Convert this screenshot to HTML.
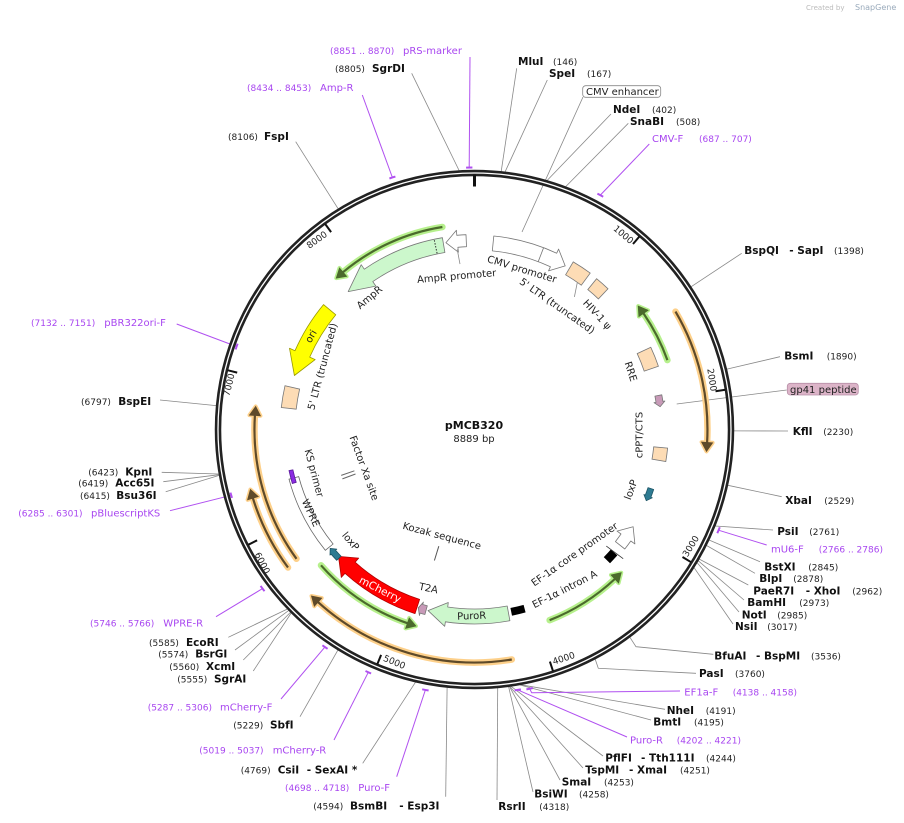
<!DOCTYPE html>
<html><head><meta charset="utf-8"><style>
html,body{margin:0;padding:0;background:#fff;}
svg{display:block;}
text{font-family:"DejaVu Sans","Liberation Sans",sans-serif;}
.n{font-weight:bold;font-size:10.5px;fill:#111;}
.c{font-size:9px;fill:#222;}
.p{font-size:10px;fill:#a846f0;}
.pc{font-size:9px;fill:#a846f0;}
.i{font-size:10px;fill:#222;}
.t{font-size:9px;fill:#222;}
</style></head><body>
<svg id="s" width="904" height="823" viewBox="0 0 904 823" xmlns="http://www.w3.org/2000/svg">
<rect width="904" height="823" fill="#fff"/>
<text x="806" y="10" style="font-size:7px;fill:#bbb">Created by</text>
<text x="855" y="10" style="font-size:8px;fill:#9ab">SnapGene</text>
<g id="lines"></g>
<g id="ring"></g>
<g id="shapes"></g>

<text x="474" y="429" text-anchor="middle" style="font-weight:bold;font-size:11px;fill:#111">pMCB320</text>
<text x="474" y="442" text-anchor="middle" style="font-size:10px;fill:#222">8889 bp</text>

<text class="t" text-anchor="middle" dominant-baseline="central" transform="translate(622.8,235.4) rotate(40.5)">1000</text>
<text class="t" text-anchor="middle" dominant-baseline="central" transform="translate(711,380) rotate(81)">2000</text>
<text class="t" text-anchor="middle" dominant-baseline="central" transform="translate(691.7,546.7) rotate(-58.5)">3000</text>
<text class="t" text-anchor="middle" dominant-baseline="central" transform="translate(564,659.3) rotate(-18)">4000</text>
<text class="t" text-anchor="middle" dominant-baseline="central" transform="translate(394,663) rotate(22.5)">5000</text>
<text class="t" text-anchor="middle" dominant-baseline="central" transform="translate(261.4,563.5) rotate(63)">6000</text>
<text class="t" text-anchor="middle" dominant-baseline="central" transform="translate(230,385) rotate(-76.5)">7000</text>
<text class="t" text-anchor="middle" dominant-baseline="central" transform="translate(317.5,240.7) rotate(-36)">8000</text>

<g id="labels">
<text class="i" text-anchor="middle" dominant-baseline="central" transform="translate(370,298) rotate(-40)">AmpR</text>
<text class="i" text-anchor="middle" dominant-baseline="central" transform="translate(456.7,277) rotate(-5)">AmpR promoter</text>
<text class="i" text-anchor="middle" dominant-baseline="central" transform="translate(521.7,270) rotate(17)">CMV promoter</text>
<text class="i" text-anchor="middle" dominant-baseline="central" transform="translate(556.7,306.7) rotate(35)">5' LTR (truncated)</text>
<text class="i" text-anchor="middle" dominant-baseline="central" transform="translate(596.7,315) rotate(47)">HIV-1 ψ</text>
<text class="i" text-anchor="middle" dominant-baseline="central" transform="translate(630,371.7) rotate(72)">RRE</text>
<text class="i" text-anchor="middle" dominant-baseline="central" transform="translate(640,435) rotate(-90)">cPPT/CTS</text>
<text class="i" text-anchor="middle" dominant-baseline="central" transform="translate(631.7,490) rotate(-70)">loxP</text>
<text class="i" text-anchor="middle" dominant-baseline="central" transform="translate(575,555) rotate(-35)">EF-1α core promoter</text>
<text class="i" text-anchor="middle" dominant-baseline="central" transform="translate(565,590) rotate(-27)">EF-1α intron A</text>
<text class="i" text-anchor="middle" dominant-baseline="central" transform="translate(471.7,616.7) rotate(-2)">PuroR</text>
<text class="i" text-anchor="middle" dominant-baseline="central" transform="translate(428.3,589) rotate(12)">T2A</text>
<text class="i" text-anchor="middle" dominant-baseline="central" transform="translate(350,541.7) rotate(50)">loxP</text>
<text class="i" text-anchor="middle" dominant-baseline="central" transform="translate(441.7,536.7) rotate(15)">Kozak sequence</text>
<text class="i" text-anchor="middle" dominant-baseline="central" transform="translate(363.3,468.3) rotate(70)">Factor Xa site</text>
<text class="i" text-anchor="middle" dominant-baseline="central" transform="translate(313.3,473.3) rotate(75)">KS primer</text>
<text class="i" text-anchor="middle" dominant-baseline="central" transform="translate(310,513.3) rotate(65)">WPRE</text>
<text class="i" text-anchor="middle" dominant-baseline="central" transform="translate(323.3,366.7) rotate(-75)">5' LTR (truncated)</text>
</g>

<rect x="582.7" y="85.7" width="78" height="11.6" rx="3" fill="#fff" stroke="#888" stroke-width="0.8"/>
<text class="i" x="586" y="95">CMV enhancer</text>
<rect x="787.3" y="383.3" width="71" height="11.7" rx="3" fill="#dcb4c8" stroke="#b890a8" stroke-width="0.8"/>
<text class="i" x="790" y="393">gp41 peptide</text>

<text class="pc" x="330" y="54">(8851 .. 8870)</text><text class="p" x="403" y="54">pRS-marker</text>
<text class="c" x="335" y="72">(8805)</text><text class="n" x="372" y="72">SgrDI</text>
<text class="pc" x="247" y="91">(8434 .. 8453)</text><text class="p" x="320" y="91">Amp-R</text>
<text class="c" x="228" y="140">(8106)</text><text class="n" x="264" y="140">FspI</text>
<text class="n" x="518" y="65">MluI</text><text class="c" x="553" y="65">(146)</text>
<text class="n" x="549" y="77">SpeI</text><text class="c" x="587" y="77">(167)</text>
<text class="n" x="613" y="113">NdeI</text><text class="c" x="652" y="113">(402)</text>
<text class="n" x="630" y="125">SnaBI</text><text class="c" x="676" y="125">(508)</text>
<text class="p" x="652" y="142">CMV-F</text><text class="pc" x="699" y="142">(687 .. 707)</text>

<text class="n" x="744.3" y="254">BspQI</text><text class="n" x="789.3" y="254">- SapI</text><text class="c" x="834" y="254">(1398)</text>
<text class="n" x="784.3" y="359.3">BsmI</text><text class="c" x="826.7" y="359.3">(1890)</text>
<text class="n" x="792.7" y="435">KflI</text><text class="c" x="823.3" y="435">(2230)</text>
<text class="n" x="785.3" y="504">XbaI</text><text class="c" x="824.3" y="504">(2529)</text>
<text class="n" x="777.3" y="535">PsiI</text><text class="c" x="809.3" y="535">(2761)</text>
<text class="p" x="771" y="552.7">mU6-F</text><text class="pc" x="818.7" y="552.7">(2766 .. 2786)</text>
<text class="n" x="764.3" y="570.7">BstXI</text><text class="c" x="808.3" y="570.7">(2845)</text>
<text class="n" x="759.3" y="582">BlpI</text><text class="c" x="793.3" y="582">(2878)</text>
<text class="n" x="753.3" y="594.3">PaeR7I</text><text class="n" x="805.7" y="594.3">- XhoI</text><text class="c" x="852.3" y="594.3">(2962)</text>
<text class="n" x="747.3" y="606">BamHI</text><text class="c" x="799.3" y="606">(2973)</text>
<text class="n" x="741.7" y="618.3">NotI</text><text class="c" x="777.3" y="618.3">(2985)</text>
<text class="n" x="735" y="630">NsiI</text><text class="c" x="767.3" y="630">(3017)</text>
<text class="n" x="714.3" y="659.3">BfuAI</text><text class="n" x="756" y="659.3">- BspMI</text><text class="c" x="811" y="659.3">(3536)</text>
<text class="n" x="699" y="677">PasI</text><text class="c" x="735" y="677">(3760)</text>
<text class="p" x="684.3" y="695.7">EF1a-F</text><text class="pc" x="732.7" y="695.7">(4138 .. 4158)</text>
<text class="n" x="666.7" y="714">NheI</text><text class="c" x="705.7" y="714">(4191)</text>
<text class="n" x="653.3" y="725.3">BmtI</text><text class="c" x="694" y="725.3">(4195)</text>
<text class="p" x="630" y="743.3">Puro-R</text><text class="pc" x="676.7" y="743.3">(4202 .. 4221)</text>
<text class="n" x="605.3" y="761.3">PflFI</text><text class="n" x="641" y="761.3">- Tth111I</text><text class="c" x="706" y="761.3">(4244)</text>
<text class="n" x="585.3" y="773.3">TspMI</text><text class="n" x="629" y="773.3">- XmaI</text><text class="c" x="680" y="773.3">(4251)</text>
<text class="n" x="561.7" y="785.7">SmaI</text><text class="c" x="604" y="785.7">(4253)</text>
<text class="n" x="534.3" y="797.3">BsiWI</text><text class="c" x="579" y="797.3">(4258)</text>
<text class="n" x="498.3" y="810">RsrII</text><text class="c" x="539.3" y="810">(4318)</text>

<text class="c" x="313.3" y="809.3">(4594)</text><text class="n" x="350" y="809.3">BsmBI</text><text class="n" x="399.3" y="809.3">- Esp3I</text>
<text class="pc" x="285" y="791">(4698 .. 4718)</text><text class="p" x="358.3" y="791">Puro-F</text>
<text class="c" x="240.7" y="773.3">(4769)</text><text class="n" x="277.7" y="773.3">CsiI</text><text class="n" x="306.7" y="773.3">- SexAI *</text>
<text class="pc" x="199.3" y="753.3">(5019 .. 5037)</text><text class="p" x="272.7" y="753.3">mCherry-R</text>
<text class="c" x="233.3" y="728.3">(5229)</text><text class="n" x="270" y="728.3">SbfI</text>
<text class="pc" x="147.7" y="710.7">(5287 .. 5306)</text><text class="p" x="220" y="710.7">mCherry-F</text>
<text class="c" x="177.3" y="682.3">(5555)</text><text class="n" x="214" y="682.3">SgrAI</text>
<text class="c" x="169.3" y="670">(5560)</text><text class="n" x="206" y="670">XcmI</text>
<text class="c" x="158.3" y="657.7">(5574)</text><text class="n" x="195.3" y="657.7">BsrGI</text>
<text class="c" x="149" y="646">(5585)</text><text class="n" x="186" y="646">EcoRI</text>
<text class="pc" x="90" y="626.7">(5746 .. 5766)</text><text class="p" x="163.3" y="626.7">WPRE-R</text>

<text class="pc" x="18.3" y="516.7">(6285 .. 6301)</text><text class="p" x="91" y="516.7">pBluescriptKS</text>
<text class="c" x="80" y="499">(6415)</text><text class="n" x="116.3" y="499">Bsu36I</text>
<text class="c" x="78.3" y="486.7">(6419)</text><text class="n" x="115.3" y="486.7">Acc65I</text>
<text class="c" x="88.3" y="475.7">(6423)</text><text class="n" x="125.3" y="475.7">KpnI</text>
<text class="c" x="81" y="405">(6797)</text><text class="n" x="118.3" y="405">BspEI</text>
<text class="pc" x="31" y="326">(7132 .. 7151)</text><text class="p" x="104.3" y="326">pBR322ori-F</text>
<g id="top"></g>
<text text-anchor="middle" dominant-baseline="central" transform="translate(380,590) rotate(27)" style="font-size:10.5px;fill:#fff">mCherry</text>
<text class="i" text-anchor="middle" dominant-baseline="central" transform="translate(311.7,336.7) rotate(-60)">ori</text>
</svg>
<script>
(function(){
var NS="http://www.w3.org/2000/svg";
var cx=474.5, cy=429.5;
function P(r,a){a=a*Math.PI/180;return [cx+r*Math.sin(a), cy-r*Math.cos(a)];}
function f(p){return p[0].toFixed(1)+','+p[1].toFixed(1);}
function arc(r,a1,a2){var large=Math.abs(a2-a1)>180?1:0, sw=a2>a1?1:0;return 'A'+r+','+r+' 0 '+large+' '+sw+' '+f(P(r,a2));}
function add(g,tag,attrs){var e=document.createElementNS(NS,tag);for(var k in attrs)e.setAttribute(k,attrs[k]);document.getElementById(g).appendChild(e);return e;}
function fat(r,w,a1,a2,hw,hl,fill,stroke){
  var d=a2>a1?1:-1, ab=a2-d*hl;
  var s='M'+f(P(r+w/2,a1))+arc(r+w/2,a1,ab)+'L'+f(P(r+hw/2,ab))+'L'+f(P(r,a2))+'L'+f(P(r-hw/2,ab))+'L'+f(P(r-w/2,ab))+arc(r-w/2,ab,a1)+'Z';
  return add('shapes','path',{d:s,fill:fill,stroke:stroke||'#777','stroke-width':0.8,'stroke-linejoin':'round'});}
function box(r,w,a1,a2,fill,stroke){
  var s='M'+f(P(r+w/2,a1))+arc(r+w/2,a1,a2)+'L'+f(P(r-w/2,a2))+arc(r-w/2,a2,a1)+'Z';
  return add('shapes','path',{d:s,fill:fill,stroke:stroke||'#777','stroke-width':0.8});}
function thin(r,a1,a2,t){
  var halo=t=='g'?'#b6f08c':'#fdd08a', col=t=='g'?'#4b6a2c':'#5e4a2a';
  var d=a2>a1?1:-1, hl=9/r*180/Math.PI, ab=a2-d*hl;
  var s='M'+f(P(r,a1))+arc(r,a1,ab);
  add('shapes','path',{d:s,fill:'none',stroke:halo,'stroke-width':6.5,'stroke-linecap':'round'});
  var h='M'+f(P(r+5.5,ab))+'L'+f(P(r,a2))+'L'+f(P(r-5.5,ab))+'Z';
  add('shapes','path',{d:h,fill:halo,stroke:halo,'stroke-width':4,'stroke-linejoin':'round'});
  add('shapes','path',{d:s,fill:'none',stroke:col,'stroke-width':2.2});
  add('shapes','path',{d:h,fill:col,stroke:col,'stroke-width':0.8});}
function ln(g,pts,col,w){return add(g,'polyline',{points:pts.map(f).join(' '),fill:'none',stroke:col,'stroke-width':w||0.8});}
function deg(p){return p/8889*360;}
add('ring','circle',{cx:cx,cy:cy,r:256.5,fill:'none',stroke:'#222','stroke-width':6.5});
add('ring','circle',{cx:cx,cy:cy,r:256.5,fill:'none',stroke:'#fff','stroke-width':1.3});
ln('ring',[P(243,0),P(255,0)],'#111',3);
for(var k=1;k<=8;k++){var a=k*1000/8889*360;ln('ring',[P(244,a),P(254,a)],'#111',2);}
var G='#888', U='#b050f0';
var L=[[411.7,73.3,8805],[295.7,141.7,8106],[516.7,68.3,146],[547.3,80,167],[611,114,402],[628.3,123.3,508],
[741.7,253.3,1398],[780,356.7,1890],[788,431,2230],[781.7,496.7,2529],[773,530,2761],[760,561.7,2845],[755,573.3,2878],
[748.3,585,2962],[744,600,2973],[739,612,2985],[733,624,3017],[665,709.3,4191],[651,720,4195],[603,756,4244],[583,768,4251],
[560,780,4253],[533,792,4258],[497,800,4318],[445.7,796.7,4594],[362.7,763.3,4769],[300,716.7,5229],[253.3,671,5555],
[243.3,660,5560],[235,650,5574],[228.3,637.3,5585],[165.7,491.7,6415],[163.3,481.7,6419],[161.7,472.3,6423],[160,400,6797]];
L.forEach(function(l){ln('lines',[[l[0],l[1]],P(259.5,deg(l[2]))],G);});
ln('lines',[[713.3,654.3],[636,646.7],P(259.5,deg(3536))],G);
ln('lines',[[696,673.3],[598.3,668.3],P(259.5,deg(3760))],G);
ln('lines',[[583,97],[522,232]],G);
ln('lines',[[786.7,390],[676.7,404]],G);
var PR=[[470,57,8851,8870,262],[362.3,95,8434,8453,265],[649.3,144,687,707,266],[766.7,545,2766,2786,264],
[680,691,4138,4158,265],[627,737,4202,4221,264],[396.7,776.7,4698,4718,265],[334,740,5019,5037,265],
[281,699,5287,5306,264],[216,616.7,5746,5766,265],[170,510.7,6285,6301,252],[176.7,324,7132,7151,252]];
PR.forEach(function(p){var a1=deg(p[2]),a2=deg(p[3]),m=(a1+a2)/2;
  if(p[2]==4138){ln('lines',[[p[0],p[1]],[531.7,692.7],P(p[4],m)],U,1);} else ln('lines',[[p[0],p[1]],P(p[4],m)],U,1);
  add('lines','path',{d:'M'+f(P(p[4],a1-0.3))+arc(p[4],a1-0.3,a2+0.3),fill:'none',stroke:U,'stroke-width':2});});
var BE='#fddcb5', LG='#ccf7cc';
thin(233,59.6,95.4,'o');
thin(233,170.8,224.4,'o');
thin(220,234,276,'o');
thin(232,233.5,255,'o');
thin(205,351,317.6,'g');
thin(205,70.2,53,'g');
thin(205,158.5,134.3,'g');
thin(205,228.5,196.6,'g');
fat(187,15,350.5,317.5,26,8,LG);
var dl=ln('shapes',[P(180,348),P(194,348)],'#333',1); if(dl) dl.setAttribute('stroke-dasharray','1.5,1.5');
fat(189,12,357.5,351.3,22,3.5,'#fff');
ln('shapes',[P(181,354.5),P(166,355)],G);
fat(187,15,5.7,29,24,4,'#fff');
ln('shapes',[P(179.5,20.8),P(194.5,20.8)],'#777');
box(187,15,30.5,36.5,BE);
box(187,14,39,43.5,BE);
ln('shapes',[P(179,35),P(166,37)],G);
box(187,15,65,71,BE);
fat(187,7,79.5,83,11,1.5,'#c89ab8');
box(187,14,95.5,99.5,BE);
fat(186,6,108.5,112.5,9,1.5,'#2e7b92','#1d5566');
fat(186,12,128.5,121.5,22,4,'#fff');
box(186,8,131.5,134.5,'#000','#000');
ln('shapes',[P(176,131.5),P(197,131)],'#333');
box(186,7,164.5,168.5,'#000','#000');
fat(187,15,169.5,194.4,24,5.8,LG);
fat(187,9,195,197.5,14,1,'#c89ab8');
fat(186,15,197.9,227,26,5,'#ff0000','#b00000');
fat(188,16,309.6,286.7,28,7,'#ffff00','#999900');
box(187,15,276.5,283,BE);
box(187,10,231,255,'#fff','#666');
box(188,4,253.5,257.5,'#8b2be2','#5a1a9a');
fat(187,6,226.5,230.5,9,1.5,'#2e7b92','#1d5566');
ln('shapes',[P(127,249.5),P(141,249.5)],'#666',1);
ln('shapes',[P(127,251),P(141,251)],'#666',1);
ln('shapes',[P(122,197),P(137,197)],'#555',1);
})();
</script>
</body></html>
